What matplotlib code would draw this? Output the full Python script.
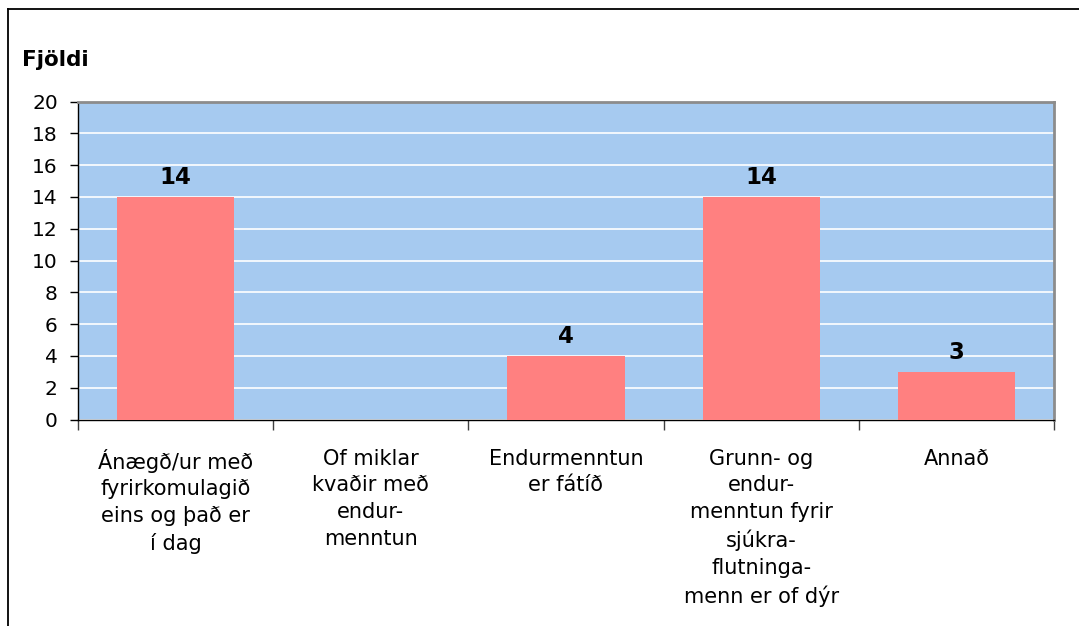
import matplotlib
matplotlib.use("Agg")
import matplotlib.pyplot as plt
from matplotlib.lines import Line2D
import numpy as np

categories = [
    "Ánægð/ur með\nfyrirkomulagið\neins og það er\ní dag",
    "Of miklar\nkvaðir með\nendur-\nmenntun",
    "Endurmenntun\ner fátíð",
    "Grunn- og\nendur-\nmenntun fyrir\nsjúkra-\nflutninga-\nmenn er of dýr",
    "Annað",
]
counts = [14, 0, 4, 14, 3]
bar_labels = ["14", "", "4", "14", "3"]

W, H = 1079, 626
fig = plt.figure(figsize=(W / 100, H / 100), dpi=100)
ax = fig.add_axes([78 / W, 1 - 419.5 / H, (1054 - 78) / W, (419.5 - 101.5) / H])

x = np.arange(len(categories))
ax.set_facecolor("#A6CAF0")
ax.bar(x, counts, width=0.6, color="#FF8080", zorder=3)
ax.set_xlim(-0.5, len(categories) - 0.5)
ax.set_ylim(0, 20)
ax.set_yticks(range(0, 21, 2))
ax.yaxis.grid(True, color="white", lw=1.2, zorder=1)
ax.set_axisbelow(True)

for xi, v, lab in zip(x, counts, bar_labels):
    if lab:
        ax.text(xi, v + 0.8, lab, ha="center", va="baseline", fontsize=16.5,
                fontweight="bold", zorder=4)

ax.set_xticks(x)
ax.set_xticklabels(categories, fontsize=15, linespacing=1.42, va="top")
ax.tick_params(axis="x", length=0, pad=21)
ax.set_xticks(np.arange(-0.5, len(categories)), minor=True)
ax.tick_params(axis="x", which="minor", length=7, width=1, color="#404040")
ax.tick_params(axis="y", labelsize=14.5, length=6, width=1, pad=8.5)

for s in ("top", "right"):
    ax.spines[s].set_color("#8c8c8c")
    ax.spines[s].set_linewidth(2)
for s in ("left", "bottom"):
    ax.spines[s].set_color("black")
    ax.spines[s].set_linewidth(1)

fig.text(22 / W, 1 - 66 / H, "Fjöldi", fontsize=15.5, fontweight="bold",
         ha="left", va="baseline")

# outer frame (top and left edges only)
fig.add_artist(Line2D([8 / W, 1], [1 - 9 / H, 1 - 9 / H], color="black", lw=1.3,
                      transform=fig.transFigure))
fig.add_artist(Line2D([8 / W, 8 / W], [1 - 9 / H, 0], color="black", lw=1.3,
                      transform=fig.transFigure))

fig.savefig("out.png", dpi=100)
